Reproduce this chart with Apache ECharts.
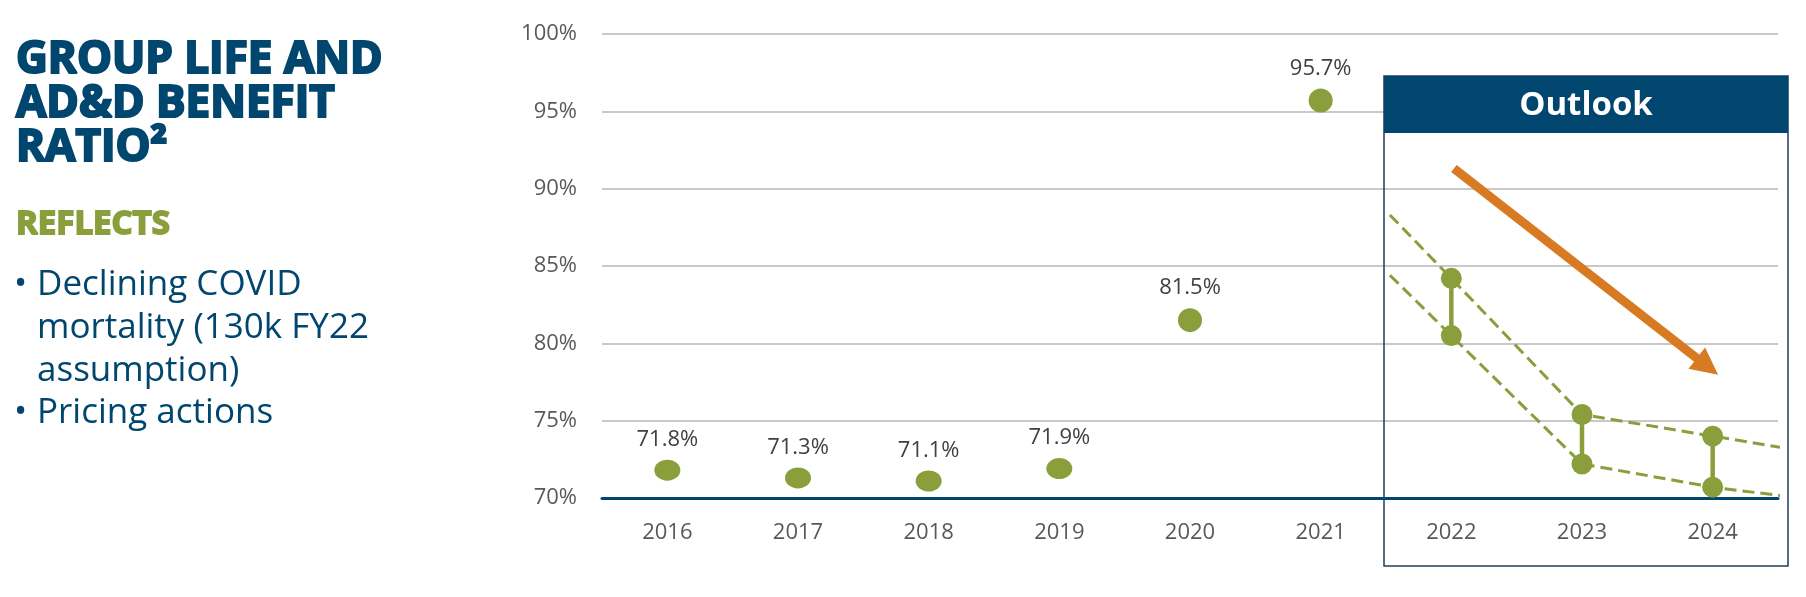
<!DOCTYPE html>
<html><head><meta charset="utf-8">
<script src="https://cdn.jsdelivr.net/npm/echarts@6/dist/echarts.min.js"></script>
<style>html,body{margin:0;padding:0;background:#fff}#c{width:1806px;height:597px}</style>
</head><body><div id="c"></div>
<script>
// ---- data ----
const categories = ['2016','2017','2018','2019','2020','2021','2022','2023','2024'];
const actualValues = [71.8, 71.3, 71.1, 71.9, 81.5, 95.7, null, null, null];
const outlookYears = ['2022','2023','2024'];
const outlookHigh = [84.2, 75.4, 74.0];
const outlookLow  = [80.5, 72.2, 70.7];
// dashed outlook trend lines: [category position, value]
const upperTrend = [[5.53, 88.3], [6, 84.2], [7, 75.4], [8, 74.0], [8.57, 73.2]];
const lowerTrend = [[5.53, 84.4], [6, 80.5], [7, 72.2], [8, 70.7], [8.57, 70.1]];
// orange arrow: [category position, value]
const arrowFrom = [6.02, 91.3];
const arrowTo   = [7.96, 78.5];
const yMin = 70, yMax = 100, yStep = 5;

// ---- styles ----
const NAVY = '#00466E', GREEN = '#8A9E3B', ORANGE = '#D87A22';
const FONT = '"Open Sans", "Noto Sans", sans-serif';

const chart = echarts.init(document.getElementById('c'), null, {renderer: 'canvas'});

const actualData = actualValues.map((v, i) => {
  if (v == null) return null;
  const small = i < 4;
  return { value: [categories[i], v], symbolSize: small ? [26, 21] : 24 };
}).filter(d => d);

const heavy = (txt, y, size, color, lw) => ({
  type: 'text', x: 16, y: y,
  style: { text: txt, fill: color, stroke: color, lineWidth: lw, font: 'bold ' + size + 'px ' + FONT, verticalAlign: 'middle' }
});
const body = (txt, x, y) => ({
  type: 'text', x: x, y: y,
  style: { text: txt, fill: NAVY, font: '35px ' + FONT, verticalAlign: 'middle' }
});

const option = {
  animation: false,
  backgroundColor: '#fff',
  grid: { left: 602, right: 28, top: 34, bottom: 99, containLabel: false },
  xAxis: [
    {
      type: 'category', data: categories, boundaryGap: true,
      axisLine: { show: true, lineStyle: { color: NAVY, width: 3 } },
      axisTick: { show: false },
      axisLabel: { fontFamily: FONT, fontSize: 22, color: '#595959', margin: 24 },
      splitLine: { show: false }
    },
    { type: 'value', min: -0.5, max: 8.5, show: false }
  ],
  yAxis: {
    type: 'value', min: yMin, max: yMax, interval: yStep,
    axisLine: { show: false }, axisTick: { show: false },
    axisLabel: { formatter: '{value}%', fontFamily: FONT, fontSize: 22, color: '#595959', margin: 25 },
    splitLine: { lineStyle: { color: '#C9C9C9', width: 2 } }
  },
  series: [
    {
      type: 'line', xAxisIndex: 1, data: upperTrend, symbol: 'none', clip: false, z: 3,
      lineStyle: { color: GREEN, width: 3, type: [12, 6] }
    },
    {
      type: 'line', xAxisIndex: 1, data: lowerTrend, symbol: 'none', clip: false, z: 3,
      lineStyle: { color: GREEN, width: 3, type: [12, 6] }
    },
    {
      type: 'custom', xAxisIndex: 0, z: 4,
      data: outlookYears.map((y, i) => [y, outlookLow[i], outlookHigh[i]]),
      renderItem: function (params, api) {
        const p1 = api.coord([api.value(0), api.value(1)]);
        const p2 = api.coord([api.value(0), api.value(2)]);
        return { type: 'line', shape: { x1: p1[0], y1: p1[1], x2: p2[0], y2: p2[1] },
                 style: { stroke: GREEN, lineWidth: 4.5 } };
      }
    },
    {
      type: 'scatter', xAxisIndex: 0, z: 5, symbol: 'circle', symbolSize: 21,
      itemStyle: { color: GREEN, opacity: 1 },
      data: outlookYears.map((y, i) => [y, outlookHigh[i]])
    },
    {
      type: 'scatter', xAxisIndex: 0, z: 5, symbol: 'circle', symbolSize: 21,
      itemStyle: { color: GREEN, opacity: 1 },
      data: outlookYears.map((y, i) => [y, outlookLow[i]])
    },
    {
      type: 'scatter', xAxisIndex: 0, z: 5, symbol: 'circle',
      itemStyle: { color: GREEN, opacity: 1 },
      label: {
        show: true, position: 'top', distance: 9,
        fontFamily: FONT, fontSize: 22, color: '#404040',
        formatter: p => p.value[1].toFixed(1) + '%'
      },
      data: actualData
    },
    {
      type: 'line', xAxisIndex: 1, data: [], z: 6,
      markLine: {
        silent: true, symbol: ['none', 'triangle'], symbolSize: 27,
        label: { show: false },
        lineStyle: { color: ORANGE, width: 9, type: 'solid', opacity: 1 },
        itemStyle: { color: ORANGE },
        data: [[{ coord: arrowFrom }, { coord: arrowTo }]]
      }
    }
  ],
  graphic: [
    { type: 'rect', z: 100, shape: { x: 1384, y: 76, width: 404, height: 490 },
      style: { fill: 'none', stroke: '#1F3E5C', lineWidth: 1.5 } },
    { type: 'rect', z: 101, shape: { x: 1384, y: 76, width: 404, height: 57 },
      style: { fill: NAVY } },
    { type: 'text', z: 102, x: 1586, y: 106,
      style: { text: 'Outlook', fill: '#fff', font: 'bold 33px ' + FONT, align: 'center', verticalAlign: 'middle' } },

    heavy('GROUP LIFE AND', 60, 44, NAVY, 2.2),
    heavy('AD&D BENEFIT', 104, 44, NAVY, 2.2),
    heavy('RATIO²', 148, 44, NAVY, 2.2),
    heavy('REFLECTS', 225, 33, GREEN, 1.8),

    body('•', 14, 285),
    body('Declining COVID', 37, 285),
    body('mortality (130k FY22', 37, 328),
    body('assumption)', 37, 371),
    body('•', 14, 413),
    body('Pricing actions', 37, 413)
  ]
};
chart.setOption(option);
</script>
</body></html>
